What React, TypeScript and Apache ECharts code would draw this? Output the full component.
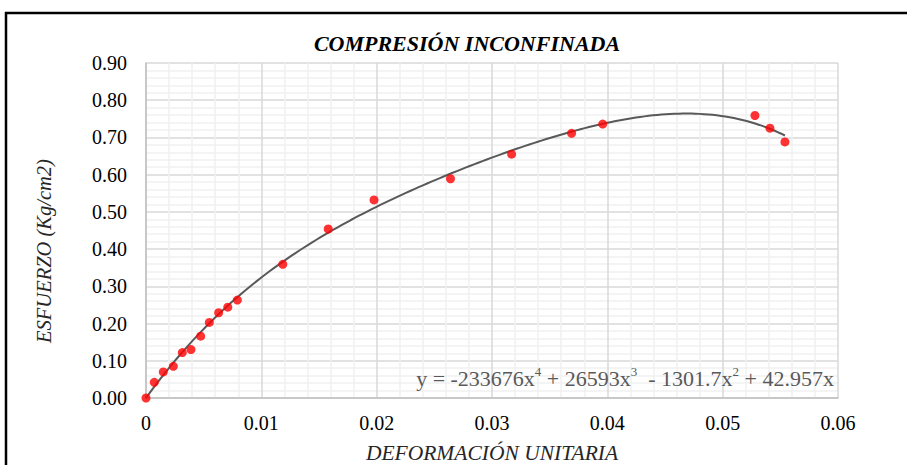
import React, { useEffect, useRef } from "react";
import * as echarts from "echarts";

const TITLE = "COMPRESIÓN INCONFINADA";
const X_NAME = "DEFORMACIÓN UNITARIA";
const Y_NAME = "ESFUERZO (Kg/cm2)";

const strain = [
  0, 0.00072, 0.0015, 0.00237, 0.00315, 0.0039, 0.00474, 0.00549, 0.0063, 0.00709,
  0.00792, 0.01186, 0.0158, 0.01977, 0.0264, 0.0317, 0.0369, 0.0396, 0.0528, 0.0541, 0.0554,
];
const stress = [
  0, 0.042, 0.07, 0.085, 0.122, 0.13, 0.166, 0.203, 0.229, 0.244,
  0.263, 0.359, 0.454, 0.532, 0.589, 0.655, 0.711, 0.736, 0.759, 0.725, 0.688,
];

// trendline coefficients (x, x^2, x^3, x^4), as printed on the chart
const trendCoeffs = [42.957, -1301.7, 26593, -233676];
const trendEndX = 0.0554;

export default function App() {
  const ref = useRef<HTMLDivElement>(null);
  useEffect(() => {
    if (!ref.current) return;
    const chart = echarts.init(ref.current, null, { renderer: "svg" });
    const trend: number[][] = [];
    const n = 150;
    for (let i = 0; i <= n; i++) {
      const x = (trendEndX * i) / n;
      let y = 0;
      for (let k = 0; k < trendCoeffs.length; k++) y += trendCoeffs[k] * Math.pow(x, k + 1);
      trend.push([x, y]);
    }
    const font = "'Liberation Serif', 'Times New Roman', serif";
    chart.setOption({
      animation: false,
      backgroundColor: "#ffffff",
      textStyle: { fontFamily: font },
      title: {
        text: TITLE,
        left: 462,
        top: 27,
        textAlign: "center",
        textStyle: { fontFamily: font, fontSize: 22, fontWeight: "bold", fontStyle: "italic", color: "#000" },
      },
      grid: { left: 146, right: 69, top: 63, bottom: 67, outerBoundsMode: "none", containLabel: false },
      xAxis: {
        type: "value",
        min: 0,
        max: 0.06,
        interval: 0.01,
        name: X_NAME,
        nameLocation: "middle",
        nameGap: 44,
        nameTextStyle: { fontFamily: font, fontSize: 21.5, fontStyle: "italic", color: "#262626" },
        axisLine: { show: true, lineStyle: { color: "#BFBFBF", width: 1.5 } },
        axisTick: { show: false },
        axisLabel: {
          fontFamily: font,
          fontSize: 20,
          color: "#000",
          margin: 15,
          formatter: (v: number) => (v === 0 ? "0" : v.toFixed(2)),
        },
        splitLine: { show: true, lineStyle: { color: "#D9D9D9", width: 1.5 } },
        minorTick: { show: false, splitNumber: 5 },
        minorSplitLine: { show: true, lineStyle: { color: "#F0F0F0", width: 1.5 } },
      },
      yAxis: {
        type: "value",
        min: 0,
        max: 0.9,
        interval: 0.1,
        axisLine: { show: true, lineStyle: { color: "#BFBFBF", width: 1.5 } },
        axisTick: { show: false },
        axisLabel: {
          fontFamily: font,
          fontSize: 20,
          color: "#000",
          margin: 19,
          formatter: (v: number) => v.toFixed(2),
        },
        splitLine: { show: true, lineStyle: { color: "#D9D9D9", width: 1.5 } },
        minorTick: { show: false, splitNumber: 5 },
        minorSplitLine: { show: true, lineStyle: { color: "#F0F0F0", width: 1.5 } },
      },
      series: [
        {
          type: "line",
          data: trend,
          showSymbol: false,
          symbol: "none",
          lineStyle: { color: "#595959", width: 2 },
          z: 2,
        },
        {
          type: "scatter",
          data: strain.map((x, i) => [x, stress[i]]),
          symbol: "circle",
          symbolSize: 9,
          itemStyle: { color: "#FF0000" },
          z: 3,
        },
      ],
      graphic: [
        {
          type: "text",
          x: 44,
          y: 251,
          rotation: Math.PI / 2,
          style: {
            text: Y_NAME,
            align: "center",
            verticalAlign: "middle",
            fontFamily: font,
            fontSize: 20.5,
            fontStyle: "italic",
            fill: "#262626",
          },
          z: 10,
        },
        {
          type: "text",
          x: 834,
          y: 377,
          style: {
            text: "{m|y = -233676x}{s|4}{m| + 26593x}{s|3}{m|  - 1301.7x}{s|2}{m| + 42.957x}",
            align: "right",
            verticalAlign: "middle",
            fill: "#595959",
            rich: {
              m: { fontFamily: font, fontSize: 22, fill: "#595959", color: "#595959", lineHeight: 24, verticalAlign: "bottom" },
              s: { fontFamily: font, fontSize: 13, fill: "#595959", color: "#595959", lineHeight: 24, verticalAlign: "top", padding: [0, 0, 8, 0] },
            },
          },
          z: 10,
        },
        {
          type: "line",
          shape: { x1: 5, y1: 13, x2: 907, y2: 13 },
          style: { stroke: "#000", lineWidth: 2.5 },
          z: 10,
        },
        {
          type: "line",
          shape: { x1: 6, y1: 12, x2: 6, y2: 465 },
          style: { stroke: "#000", lineWidth: 2.5 },
          z: 10,
        },
      ],
    });
    return () => chart.dispose();
  }, []);
  return (
    <div
      ref={ref}
      style={{ position: "fixed", left: 0, top: 0, width: 907, height: 465, background: "#fff" }}
    />
  );
}
